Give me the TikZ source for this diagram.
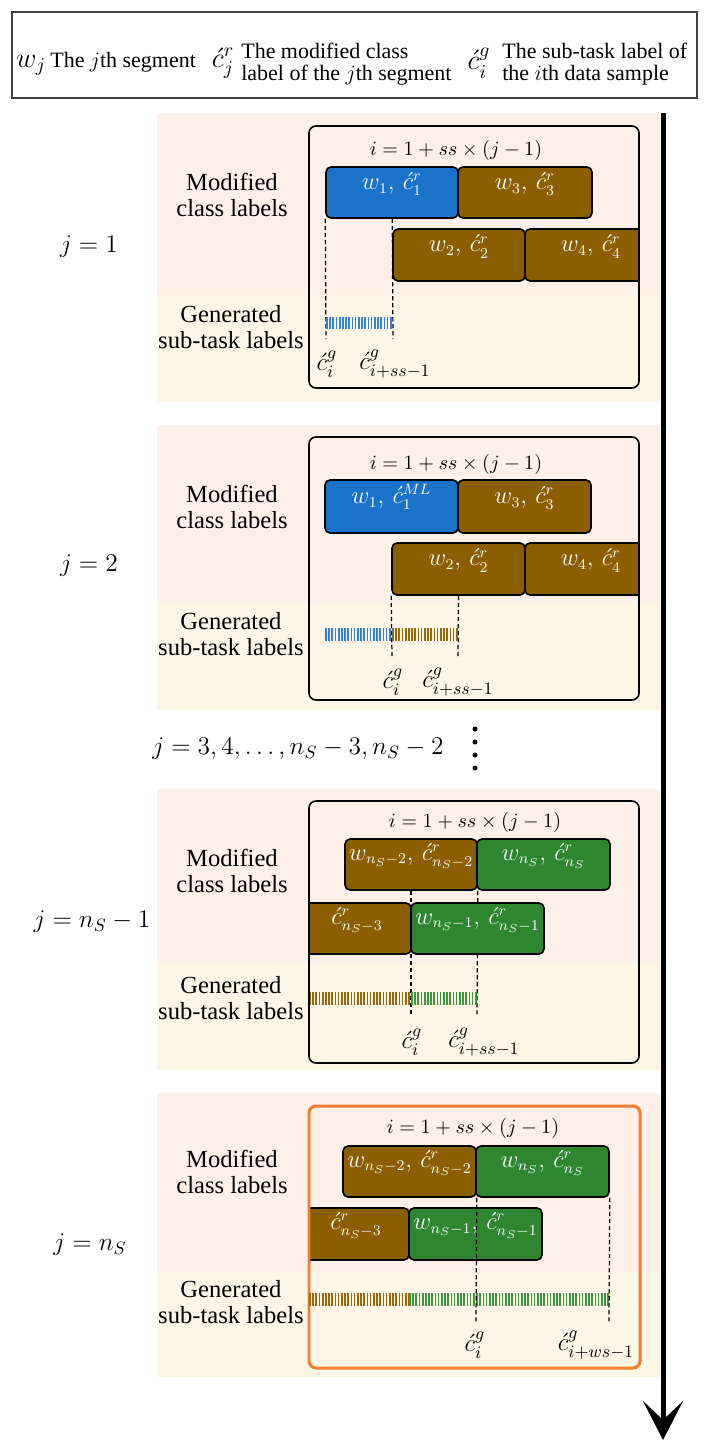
\RequirePackage{fix-cm}
\documentclass[tikz,border=0pt]{standalone}
\usepackage{amsmath}
\usepackage{fontspec}
\setmainfont{Liberation Serif}
\usetikzlibrary{fit,arrows.meta}
\definecolor{segblue}{RGB}{26,115,200}
\definecolor{segbrown}{RGB}{139,94,0}
\definecolor{seggreen}{RGB}{46,135,48}
\definecolor{pinkbg}{RGB}{253,240,233}
\definecolor{creambg}{RGB}{253,246,230}
\definecolor{frameorange}{RGB}{245,125,45}
\definecolor{hblue}{RGB}{50,130,215}
\definecolor{hbrown}{RGB}{150,105,15}
\definecolor{hgreen}{RGB}{60,150,60}
\pgfdeclarelayer{back}
\pgfdeclarelayer{mid}
\pgfsetlayers{back,mid,main}
\DeclareMathSizes{14}{14}{8.5}{6.5}
\newcommand{\ca}{\acute{c}}
\tikzset{
  seg/.style={draw, line width=0.9pt, rounded corners=0.1cm, inner sep=0pt, text=white, font=\fontsize{14}{16}\selectfont},
  frame/.style={draw, line width=0.9pt, rounded corners=0.14cm, inner sep=0pt},
  side/.style={align=center, font=\fontsize{14}{14.6}\selectfont},
  jlab/.style={font=\fontsize{14.5}{16}\selectfont},
  fml/.style={font=\fontsize{11.5}{13}\selectfont},
  glab/.style={font=\fontsize{14.2}{16}\selectfont},
  legmath/.style={font=\fontsize{16}{18}\selectfont},
  legtxt/.style={anchor=west, align=left, inner sep=0pt, font=\fontsize{12.5}{12.5}\selectfont},
  cut/.style={line width=0.7pt, dash pattern=on 2.4pt off 1.6pt},
  hatch/.style={line width=0.26cm, dash pattern=on 0.034cm off 0.03cm},
}
\begin{document}
\begin{tikzpicture}[x=0.02cm,y=-0.02cm]
\useasboundingbox (0,0) rectangle (704,1453);

\begin{pgfonlayer}{back}
\fill[pinkbg] (157,113) rectangle (660,295);
\fill[creambg] (157,295) rectangle (660,402);
\fill[pinkbg] (157,425) rectangle (660,603);
\fill[creambg] (157,603) rectangle (660,710);
\fill[pinkbg] (157,789) rectangle (660,964);
\fill[creambg] (157,964) rectangle (660,1070);
\fill[pinkbg] (157,1093) rectangle (660,1272);
\fill[creambg] (157,1272) rectangle (660,1377);
\end{pgfonlayer}

% legend
\coordinate (lnw) at (12,12);
\coordinate (lse) at (697,98);
\node[draw=black!75, line width=0.6pt, inner sep=0pt, fit=(lnw)(lse)] (leg) {};
\node[legmath, inner sep=0pt] (lw) at (31,65) {$w_j$};
\node[legtxt] (lt1) at (50,62) {The $j$th segment};
\node[legmath, inner sep=0pt] (lcr) at (223,63) {$\ca^r_j$};
\node[legtxt] (lt2) at (241,64) {The modified class\\label of the $j$th segment};
\node[legmath, inner sep=0pt] (lcg) at (479,63) {$\ca^g_i$};
\node[legtxt] (lt3) at (502,64) {The sub-task label of\\the $i$th data sample};

% j = 1
\node[side] (mod1) at (232,195) {Modified\\class labels};
\node[side] (gen1) at (231,327) {Generated\\sub-task labels};
\node[jlab] (j1) at (89,247) {$j=1$};
\node[fml] (e1) at (456,150) {$i=1+ss\times(j-1)$};
\coordinate (f1nw) at (309,126);
\coordinate (f1se) at (639,388);
\begin{scope}
\clip[rounded corners=0.14cm] (f1nw) rectangle (f1se);
\node[seg, fill=segblue, fit={(326,167) (458,218)}] (s11) {$w_1,\,\ca^r_1$};
\node[seg, fill=segbrown, fit={(458,167) (592,218)}] (s13) {$w_3,\,\ca^r_3$};
\node[seg, fill=segbrown, fit={(393,229) (525,281)}] (s12) {$w_2,\,\ca^r_2$};
\node[seg, fill=segbrown, fit={(525,229) (657,281)}] (s14) {$w_4,\,\ca^r_4$};
\end{scope}
\node[frame, fit=(f1nw)(f1se)] (f1) {};
\coordinate (c11) at (326,339);
\coordinate (c12) at (393,339);
\coordinate (h11) at (326,323);
\coordinate (h12) at (393,323);
\begin{pgfonlayer}{mid}
\draw[cut] (s11.south west) -- (c11);
\draw[cut] (s11.south -| s12.west) -- (c12);
\draw[hatch, hblue] (h11) -- (h12);
\end{pgfonlayer}
\node[glab] (g11) at (327,364) {$\ca^g_i$};
\node[glab] (g12) at (395,364) {$\ca^g_{i+ss-1}$};

% j = 2
\node[side] (mod2) at (232,507) {Modified\\class labels};
\node[side] (gen2) at (231,634) {Generated\\sub-task labels};
\node[jlab] (j2) at (89,566) {$j=2$};
\node[fml] (e2) at (456,464) {$i=1+ss\times(j-1)$};
\coordinate (f2nw) at (309,437);
\coordinate (f2se) at (639,700);
\begin{scope}
\clip[rounded corners=0.14cm] (f2nw) rectangle (f2se);
\node[seg, fill=segblue, fit={(325,480) (458,533)}] (s21) {$w_1,\,\ca^{ML}_1$};
\node[seg, fill=segbrown, fit={(458,480) (591,533)}] (s23) {$w_3,\,\ca^r_3$};
\node[seg, fill=segbrown, fit={(392,543) (525,595)}] (s22) {$w_2,\,\ca^r_2$};
\node[seg, fill=segbrown, fit={(525,543) (657,595)}] (s24) {$w_4,\,\ca^r_4$};
\end{scope}
\node[frame, fit=(f2nw)(f2se)] (f2) {};
\coordinate (c21) at (392,657);
\coordinate (c22) at (458,657);
\coordinate (h20) at (325,634);
\coordinate (h21) at (392,634);
\coordinate (h22) at (458,634);
\begin{pgfonlayer}{mid}
\draw[cut] (s22.south west) -- (c21);
\draw[cut] (s22.south) -- (c22);
\draw[hatch, hblue] (h20) -- (h21);
\draw[hatch, hbrown] (h21) -- (h22);
\end{pgfonlayer}
\node[glab] (g21) at (393,682) {$\ca^g_i$};
\node[glab] (g22) at (458,682) {$\ca^g_{i+ss-1}$};

% j = 3 ... n_S - 2
\node[jlab] (jm) at (298,749) {$j=3,4,\dots,n_S-3,n_S-2$};
\foreach \dy in {729,742,755,768}
  \fill (475,\dy) circle (0.05cm);

% j = n_S - 1
\node[side] (mod3) at (232,871) {Modified\\class labels};
\node[side] (gen3) at (231,998) {Generated\\sub-task labels};
\node[jlab] (j3) at (92,922) {$j=n_S-1$};
\node[fml] (e3) at (475,822) {$i=1+ss\times(j-1)$};
\coordinate (f3nw) at (309,801);
\coordinate (f3se) at (639,1063);
\begin{scope}
\clip[rounded corners=0.14cm] (f3nw) rectangle (f3se);
\node[seg, fill=segbrown, fit={(345,839) (477,890)}] (s31) {$w_{n_S-2},\,\ca^r_{n_S-2}$};
\node[seg, fill=seggreen, fit={(477,839) (610,890)}] (s32) {$w_{n_S},\,\ca^r_{n_S}$};
\node[seg, fill=segbrown, fit={(303,903) (411,954)}] (s33) {$\ca^r_{n_S-3}$};
\node[seg, fill=seggreen, fit={(411,903) (544,954)}] (s34) {$w_{n_S-1},\,\ca^r_{n_S-1}$};
\end{scope}
\node[frame, fit=(f3nw)(f3se)] (f3) {};
\coordinate (c31) at (411,1017);
\coordinate (c32) at (477,1017);
\coordinate (h30) at (309,998);
\coordinate (h31) at (411,998);
\coordinate (h32) at (477,998);
\begin{pgfonlayer}{mid}
\draw[cut] (s31.south) -- (c31);
\draw[cut] (s31.south east) -- (c32);
\draw[hatch, hbrown] (h30) -- (h31);
\draw[hatch, hgreen] (h31) -- (h32);
\end{pgfonlayer}
\node[glab] (g31) at (412,1042) {$\ca^g_i$};
\node[glab] (g32) at (484,1042) {$\ca^g_{i+ss-1}$};

% j = n_S
\node[side] (mod4) at (232,1172) {Modified\\class labels};
\node[side] (gen4) at (231,1302) {Generated\\sub-task labels};
\node[jlab] (j4) at (90,1245) {$j=n_S$};
\node[fml] (e4) at (473,1128) {$i=1+ss\times(j-1)$};
\coordinate (f4nw) at (309,1106);
\coordinate (f4se) at (640,1368);
\begin{scope}
\clip[rounded corners=0.14cm] (f4nw) rectangle (f4se);
\node[seg, fill=segbrown, fit={(343,1146) (476,1197)}] (s41) {$w_{n_S-2},\,\ca^r_{n_S-2}$};
\node[seg, fill=seggreen, fit={(476,1146) (609,1197)}] (s42) {$w_{n_S},\,\ca^r_{n_S}$};
\node[seg, fill=segbrown, fit={(303,1208) (409,1260)}] (s43) {$\ca^r_{n_S-3}$};
\node[seg, fill=seggreen, fit={(409,1208) (542,1260)}] (s44) {$w_{n_S-1},\,\ca^r_{n_S-1}$};
\end{scope}
\node[frame, draw=frameorange, line width=1.7pt, fit=(f4nw)(f4se)] (f4) {};
\coordinate (c41) at (476,1323);
\coordinate (c42) at (609,1323);
\coordinate (h40) at (309,1299);
\coordinate (h41) at (409,1299);
\coordinate (h42) at (609,1299);
\draw[hatch, hbrown] (h40) -- (h41);
\draw[hatch, hgreen] (h41) -- (h42);
\draw[cut] (s41.south east) -- (c41);
\draw[cut] (s42.south east) -- (c42);
\node[glab] (g41) at (475,1345) {$\ca^g_i$};
\node[glab] (g42) at (596,1345) {$\ca^g_{i+ws-1}$};

% time axis
\coordinate (at) at (663,113);
\coordinate (ab) at (663,1440);
\draw[line width=0.1cm, -{Stealth[length=0.78cm, width=0.8cm, inset=0.38cm]}] (at) -- (ab);
\end{tikzpicture}
\end{document}
